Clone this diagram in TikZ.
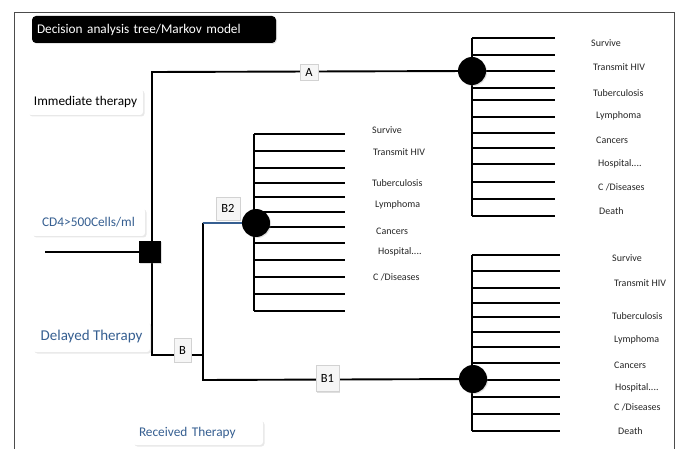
\documentclass[tikz,border=0pt]{standalone}
\usepackage{fontspec}
\setmainfont{Carlito}
\usetikzlibrary{shadows}
\definecolor{tblue}{RGB}{54,95,145}
\pgfdeclarelayer{bg}
\pgfsetlayers{bg,main}
\begin{document}
\begin{tikzpicture}[x=1pt,y=-1pt,
  br/.style={line width=1.9pt, black},
  lbl/.style={font=\fontsize{10}{12}\selectfont, anchor=west, inner sep=0, text=black!85},
  tag/.style={draw=gray!35, fill=gray!7, font=\fontsize{12.5}{14}\selectfont, inner sep=0,
     drop shadow={opacity=0.25, shadow xshift=1pt, shadow yshift=-1pt}},
  cbox/.style={fill=white, rounded corners=3pt, inner sep=0,
     font=\fontsize{13.3}{15}\selectfont,
     drop shadow={opacity=0.18, shadow xshift=1.5pt, shadow yshift=-1.5pt}},
  chance/.style={circle, fill=black, minimum size=28pt, inner sep=0,
     drop shadow={opacity=0.25, shadow xshift=1pt, shadow yshift=-1pt}},
  decision/.style={rectangle, fill=black, minimum size=22pt, inner sep=0,
     drop shadow={opacity=0.25, shadow xshift=1pt, shadow yshift=-1pt}},
]
\useasboundingbox (0,0) rectangle (680,449);
\begin{pgfonlayer}{bg}
\fill[white] (0,0) rectangle (680,449);
\end{pgfonlayer}
% frame
\draw[line width=0.9pt, black!70] (14,449) -- (14,12) -- (674,12) -- (674,449);

% title
\node[fill=black, rounded corners=4pt, minimum height=27pt, text width=234pt, inner xsep=5pt,
  align=left, text=white, font=\fontsize{13.3}{15}\selectfont,
  drop shadow={opacity=0.2, shadow xshift=1pt, shadow yshift=-1pt}]
  (title) at (154,29.5) {Decision analysis tree/Markov model};

% left labels
\node[cbox, minimum width=115pt, minimum height=26pt] (imm) at (85.5,102) {Immediate therapy};
\node[cbox, minimum width=113pt, minimum height=28pt, text=tblue] (cd4) at (88.5,222) {CD4>500Cells/ml};
\node[cbox, minimum width=117pt, minimum height=30pt, text=tblue, font=\fontsize{15}{17}\selectfont] (del) at (91.5,337) {Delayed Therapy};
\node[cbox, minimum height=25pt, text width=118pt, inner xsep=6pt, align=left, text=tblue] (rec) at (198,432.5) {Received Therapy};

% decision and chance nodes
\node[decision] (dec) at (150,252) {};
\node[chance] (cA) at (472,71) {};
\node[chance] (cB2) at (256,223) {};
\node[chance] (cB1) at (473,379) {};

\coordinate (start) at (45,252);
\coordinate (topc) at (152,72);
\coordinate (botc) at (152,355);
\coordinate (bj) at (203,355);
\coordinate (b2c) at (203,223);
\coordinate (b1c) at (203,380);

\begin{pgfonlayer}{bg}
  \draw[br] (start) -- (dec);
  \draw[br] (topc |- dec.center) -- (topc) -- (cA);
  \draw[br] (topc |- dec.center) -- (botc) -- (bj);
  \draw[br] (b2c) -- (b1c) -- (cB1);
  \draw[line width=1.3pt, tblue] (b2c) -- (cB2);
  % fan A
  \draw[br] (472,38) -- (472,216);
  \foreach \y in {38,55,71,88,100,117,133,148,164,182,199,216}
    \draw[br] (472,\y) -- (555,\y);
  % fan B2
  \draw[br] (254,134) -- (254,311);
  \foreach \y in {134,151,168,183,197,212,227,243,260,277,294,311}
    \draw[br] (254,\y) -- (345,\y);
  % fan B1
  \draw[br] (472,255) -- (472,431);
  \foreach \y in {255,271,288,303,317,332,347,363,380,397,414,431}
    \draw[br] (472,\y) -- (560,\y);
\end{pgfonlayer}

% tags
\node[tag, minimum width=18pt, minimum height=16pt] (tA) at (309,72.5) {A};
\node[tag, minimum width=24pt, minimum height=23pt] (tB2) at (228,208.5) {B2};
\node[tag, minimum width=17pt, minimum height=24pt] (tB) at (182.5,350) {B};
\node[tag, minimum width=23pt, minimum height=26pt] (tB1) at (327.5,378.5) {B1};

% outcome labels, fan A
\node[lbl] (a1) at (591,43) {Survive};
\node[lbl] (a2) at (593,67) {Transmit HIV};
\node[lbl] (a3) at (593,93) {Tuberculosis};
\node[lbl] (a4) at (596,116) {Lymphoma};
\node[lbl] (a5) at (596,140) {Cancers};
\node[lbl] (a6) at (598,164) {Hospital....};
\node[lbl] (a7) at (598,187) {C /Diseases};
\node[lbl] (a8) at (599,211) {Death};

% outcome labels, fan B2
\node[lbl] (m1) at (372,130) {Survive};
\node[lbl] (m2) at (373,152) {Transmit HIV};
\node[lbl] (m3) at (372,183) {Tuberculosis};
\node[lbl] (m4) at (375,205) {Lymphoma};
\node[lbl] (m5) at (376,231) {Cancers};
\node[lbl] (m6) at (378,252) {Hospital....};
\node[lbl] (m7) at (373,277) {C /Diseases};

% outcome labels, fan B1
\node[lbl] (b1) at (612,258) {Survive};
\node[lbl] (b2) at (614,283) {Transmit HIV};
\node[lbl] (b3) at (612,316) {Tuberculosis};
\node[lbl] (b4) at (614,340) {Lymphoma};
\node[lbl] (b5) at (614,365) {Cancers};
\node[lbl] (b6) at (615,388) {Hospital....};
\node[lbl] (b7) at (614,407) {C /Diseases};
\node[lbl] (b8) at (618,431) {Death};
\end{tikzpicture}
\end{document}
